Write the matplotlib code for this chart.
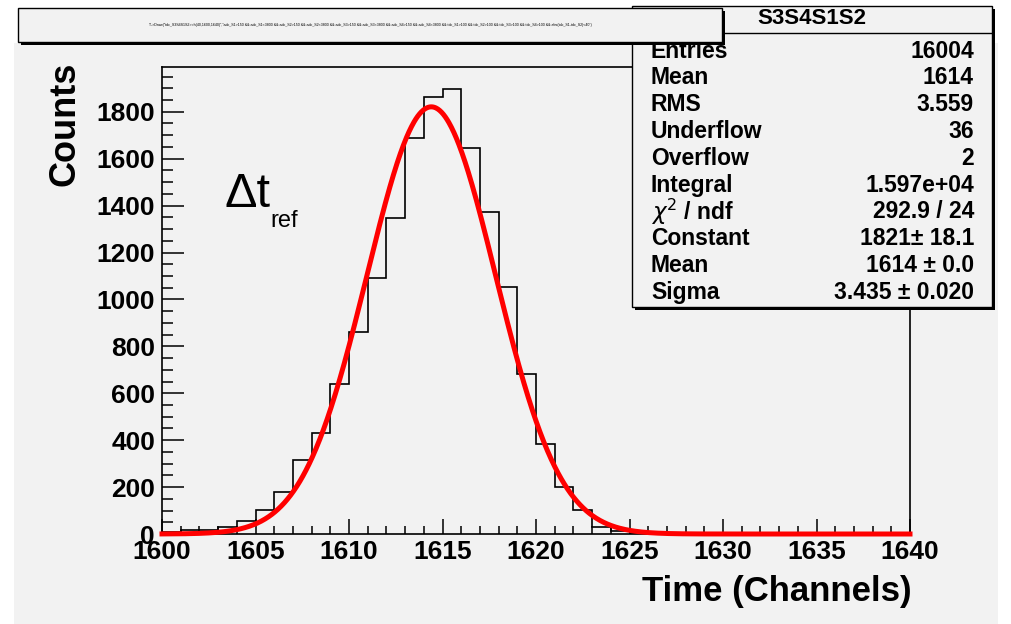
import matplotlib
matplotlib.use("Agg")
import numpy as np
import matplotlib.pyplot as plt
from matplotlib.patches import Rectangle
from matplotlib.ticker import MultipleLocator

# ---- data -------------------------------------------------------------
hist_name = "S3S4S1S2"
hist_title = ("T->Draw(\"tdc_S3S4S1S2>>h(40,1600,1640)\",\"adc_S1>150 && adc_S1<3800 && adc_S2>150 && "
              "adc_S2<3800 && adc_S3>150 && adc_S3<3800 && adc_S4>150 && adc_S4<3800 && tdc_S1>100 && "
              "tdc_S2>100 && tdc_S3>100 && tdc_S4>100 && abs(tdc_S1-tdc_S2)<40\")")
bin_edges = np.arange(1600, 1641, 1)          # 40 channels
counts = [7, 18, 18, 30, 54, 103, 177, 316, 432, 638,
          860, 1090, 1348, 1688, 1861, 1896, 1645, 1373, 1053, 680,
          382, 202, 103, 30, 11, 3, 1, 0, 0, 0,
          0, 0, 0, 0, 0, 0, 0, 0, 0, 0]

entries = 16004
hist_mean = 1614
hist_rms = 3.559
underflow = 36
overflow = 2
integral = 1.597e4
chi2 = 292.9
ndf = 24
fit_const, fit_const_err = 1821, 18.1
fit_mean, fit_mean_err = 1614.4, 0.04
fit_sigma, fit_sigma_err = 3.435, 0.020

x_label = "Time (Channels)"
y_label = "Counts"

# ---- figure -----------------------------------------------------------
W, H = 1011, 624
BG = "#f2f2f2"
plt.rcParams["font.family"] = ["Liberation Sans", "DejaVu Sans"]

fig = plt.figure(figsize=(W / 100, H / 100), dpi=100, facecolor="white")


def fx(x):
    return x / W


def fy(y):
    return 1 - y / H


def box(x0, y0, x1, y1, z, shadow=3):
    sh = Rectangle((fx(x0 + shadow), fy(y1 + shadow)), fx(x1) - fx(x0), fy(y0) - fy(y1),
                   transform=fig.transFigure, facecolor="black", edgecolor="none", zorder=z)
    bx = Rectangle((fx(x0), fy(y1)), fx(x1) - fx(x0), fy(y0) - fy(y1),
                   transform=fig.transFigure, facecolor=BG, edgecolor="black",
                   linewidth=1.0, zorder=z + 0.1)
    fig.add_artist(sh)
    fig.add_artist(bx)


# canvas
fig.add_artist(Rectangle((fx(14), 0), fx(998) - fx(14), fy(43), transform=fig.transFigure,
                         facecolor=BG, edgecolor="none", zorder=-5))

ax = fig.add_axes([fx(162), fy(534), fx(910) - fx(162), fy(67) - fy(534)])
ax.set_facecolor(BG)
for s in ax.spines.values():
    s.set_linewidth(1.2)
    s.set_color("black")

ax.stairs(counts, bin_edges, color="black", linewidth=1.2, baseline=0, zorder=3)

xs = np.linspace(bin_edges[0], bin_edges[-1], 1200)
gauss = fit_const * np.exp(-0.5 * ((xs - fit_mean) / fit_sigma) ** 2)
ax.plot(xs, gauss, color="#ff0000", linewidth=3.6, clip_on=False, zorder=4)

ax.set_xlim(bin_edges[0], bin_edges[-1])
ax.set_ylim(0, 1.05 * max(counts))

ax.xaxis.set_major_locator(MultipleLocator(5))
ax.xaxis.set_minor_locator(MultipleLocator(1))
ax.yaxis.set_major_locator(MultipleLocator(200))
ax.yaxis.set_minor_locator(MultipleLocator(50))
ax.tick_params(axis="x", which="major", direction="in", length=10.8, width=1.1, pad=4,
               labelsize=19, top=False)
ax.tick_params(axis="x", which="minor", direction="in", length=5.8, width=1.1, top=False)
ax.tick_params(axis="y", which="major", direction="in", length=15.8, width=1.1, pad=5,
               labelsize=19, right=False)
ax.tick_params(axis="y", which="minor", direction="in", length=8, width=1.1, right=False)
for lab in ax.get_xticklabels() + ax.get_yticklabels():
    lab.set_fontweight("bold")

fig.text(fx(65), fy(62), y_label, rotation=90, ha="center", va="top",
         fontsize=26, fontweight="bold")
fig.text(fx(912), fy(592), x_label, ha="right", va="center",
         fontsize=25, fontweight="bold")

# reference time label
fig.text(fx(224), fy(207), "\u0394t", ha="left", va="baseline", fontsize=35)
fig.text(fx(270), fy(227), "ref", ha="left", va="baseline", fontsize=17)

# ---- statistics box ---------------------------------------------------
box(632, 6, 992, 307, z=5)
fig.add_artist(plt.Line2D([fx(632), fx(992)], [fy(33), fy(33)], transform=fig.transFigure,
                          color="black", linewidth=1.0, zorder=5.2))
fig.text(fx(812), fy(19), hist_name, ha="center", va="center", fontsize=16,
         fontweight="bold", zorder=6)

stat_labels = ["Entries", "Mean", "RMS", "Underflow", "Overflow", "Integral",
               r"$\chi^{2}$ / ndf", "Constant", "Mean", "Sigma"]
stat_values = [f"{entries:d}", f"{hist_mean:d}", f"{hist_rms:.3f}", f"{underflow:d}",
               f"{overflow:d}", f"{integral:.3e}",
               f"{chi2:.1f} / {ndf:d}",
               f"{fit_const:d}\u00b1 {fit_const_err:.1f}",
               f"{fit_mean:.0f} \u00b1 {fit_mean_err:.1f}",
               f"{fit_sigma:.3f} \u00b1 {fit_sigma_err:.3f}"]
row0, step = 51, 26.8
for i, (lab, val) in enumerate(zip(stat_labels, stat_values)):
    yy = fy(row0 + i * step)
    fig.text(fx(651), yy, lab, ha="left", va="center", fontsize=16.5,
             fontweight="bold", zorder=6)
    fig.text(fx(974), yy, val, ha="right", va="center", fontsize=16.5,
             fontweight="bold", zorder=6)

# ---- title box --------------------------------------------------------
box(18, 8, 722, 42, z=7)
fig.text(fx(370), fy(25), hist_title, ha="center", va="center", fontsize=2.6, zorder=8)

fig.savefig("out.png", dpi=100, facecolor=fig.get_facecolor())
